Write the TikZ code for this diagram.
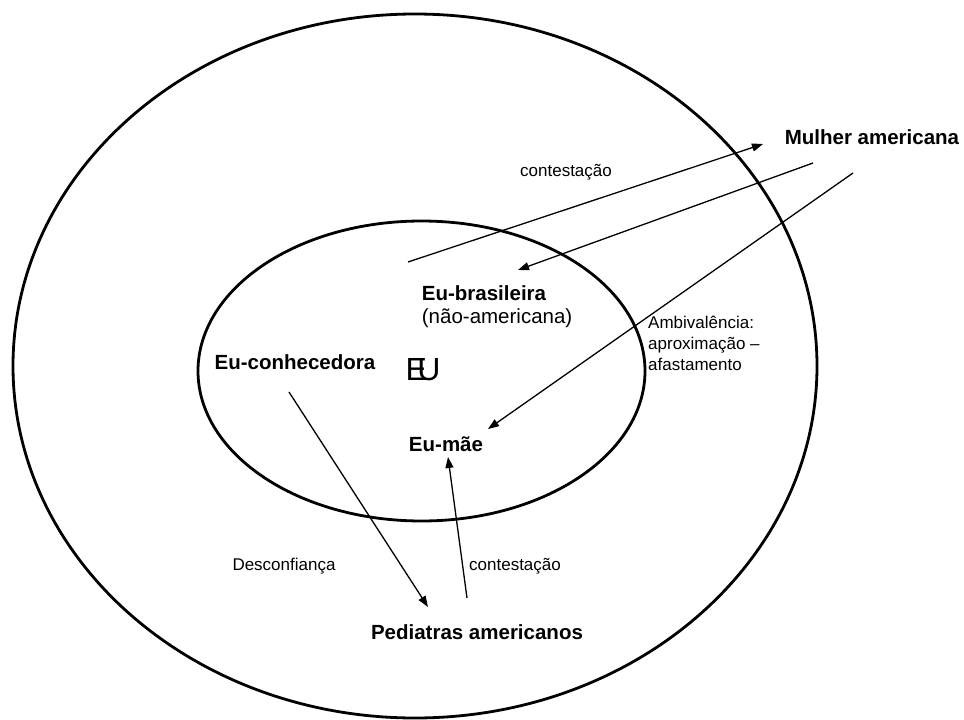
\documentclass[tikz,border=0pt]{standalone}
\usepackage{fontspec}
\setmainfont{Liberation Sans}
\usetikzlibrary{positioning, arrows.meta, calc}

\tikzset{
    ring/.style={draw=black, line width=2.8pt},
    rel/.style={draw=black, line width=1.3pt, -{Triangle[length=11pt,width=8pt]}},
    who/.style={font=\fontsize{20.5}{24}\selectfont\bfseries, inner sep=0pt},
    tag/.style={font=\fontsize{17}{21}\selectfont, inner sep=0pt}
}

\begin{document}
\begin{tikzpicture}[x=1pt, y=-1pt]
    \useasboundingbox (0,0) rectangle (964,720);

    % the two circles of the self
    \draw[ring] (415,366) ellipse (402 and 352);
    \draw[ring] (421.5,371) ellipse (223.5 and 150);

    % names
    \foreach \name/\x/\y/\txt in {
        mulher/872/137/Mulher americana,
        bras/484/293/Eu-brasileira,
        conh/295/362/Eu-conhecedora,
        mae/446/444/Eu-m\~ae,
        ped/477/632/Pediatras americanos}{
        \node[who] (\name) at (\x,\y) {\txt};
    }
    \node[font=\fontsize{20.5}{24}\selectfont, inner sep=0pt, anchor=west] (nao)
        at ($(bras.west)+(0,25)$) {(não-americana)};
    \node[font=\fontsize{32}{36}\selectfont, inner sep=0pt] (eu) at (423,370) {E\kern-0.3em U};

    % relation labels
    \node[tag] (cont1) at (566,172) {contestação};
    \node[tag, align=left, anchor=north west] (amb) at (648,316)
        {Ambivalência:\\aproximação --\\afastamento};
    \node[tag] (desc) at (284,566) {Desconfiança};
    \node[tag] (cont2) at (515,566) {contestação};

    % ends of the arrows
    \coordinate (c1a) at (408,262);
    \coordinate (c1b) at (763,144);
    \coordinate (m1) at (813,163);
    \coordinate (m1t) at (518,270);
    \coordinate (m2) at (853,173);
    \coordinate (m2t) at (488,429);
    \coordinate (k1) at (289,392);
    \coordinate (k1t) at (428,607);
    \coordinate (p1) at (467,598);
    \coordinate (p1t) at (448,457);

    \draw[rel] (c1a) -- (c1b);
    \draw[rel] (m1) -- (m1t);
    \draw[rel] (m2) -- (m2t);
    \draw[rel] (k1) -- (k1t);
    \draw[rel] (p1) -- (p1t);
\end{tikzpicture}
\end{document}
